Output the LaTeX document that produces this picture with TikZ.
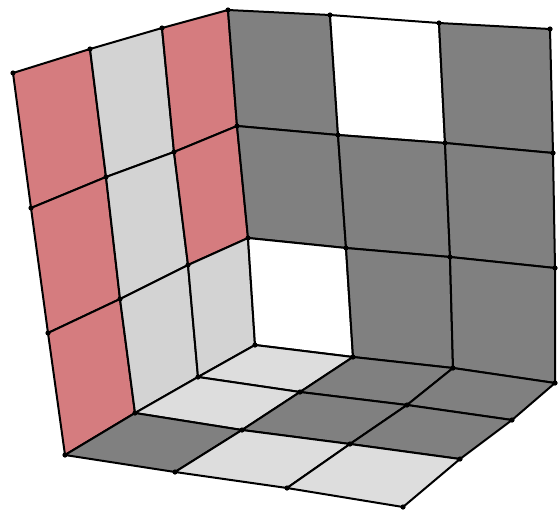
\documentclass[tikz,border=0pt]{standalone}
\usepackage{tikz}
\definecolor{pinkc}{HTML}{D57C7F}
\definecolor{wallgray}{HTML}{D3D3D3}
\definecolor{floorgray}{HTML}{DDDDDD}
\definecolor{darkc}{HTML}{808080}
\tikzset{cellline/.style={draw=black,line width=2pt,line join=round},
  vdot/.style={fill=black}}
\newcommand\qcell[5]{\filldraw[cellline,fill=#1] (#2)--(#3)--(#4)--(#5)--cycle;}
\begin{document}
\begin{tikzpicture}[x=1pt,y=-1pt]
\useasboundingbox (0,0) rectangle (559,512);
% left wall L r c
\coordinate (L00) at (13,73); \coordinate (L01) at (90,49); \coordinate (L02) at (162,28); \coordinate (L03) at (228,10);
\coordinate (L10) at (31,208); \coordinate (L11) at (106,177); \coordinate (L12) at (174,152); \coordinate (L13) at (237,126);
\coordinate (L20) at (48,333); \coordinate (L21) at (120,299); \coordinate (L22) at (188,265); \coordinate (L23) at (248,238);
\coordinate (L30) at (65,455); \coordinate (L31) at (135,413); \coordinate (L32) at (198,377); \coordinate (L33) at (255,345);
% back wall B r c
\coordinate (B00) at (228,10); \coordinate (B01) at (330,15); \coordinate (B02) at (439,23); \coordinate (B03) at (550,29);
\coordinate (B10) at (237,126); \coordinate (B11) at (338,135); \coordinate (B12) at (445,143); \coordinate (B13) at (553,153);
\coordinate (B20) at (248,238); \coordinate (B21) at (346,248); \coordinate (B22) at (450,257); \coordinate (B23) at (555,268);
\coordinate (B30) at (255,345); \coordinate (B31) at (353,357); \coordinate (B32) at (453,368); \coordinate (B33) at (555,383);
% floor F i j
\coordinate (F00) at (255,345); \coordinate (F01) at (353,357); \coordinate (F02) at (453,368); \coordinate (F03) at (555,383);
\coordinate (F10) at (198,377); \coordinate (F11) at (300,392); \coordinate (F12) at (407,405); \coordinate (F13) at (512,420);
\coordinate (F20) at (135,413); \coordinate (F21) at (242,430); \coordinate (F22) at (350,444); \coordinate (F23) at (460,459);
\coordinate (F30) at (65,455); \coordinate (F31) at (175,472); \coordinate (F32) at (287,488); \coordinate (F33) at (403,507);
% left wall cells
\qcell{pinkc}{L00}{L01}{L11}{L10}
\qcell{wallgray}{L01}{L02}{L12}{L11}
\qcell{pinkc}{L02}{L03}{L13}{L12}
\qcell{pinkc}{L10}{L11}{L21}{L20}
\qcell{wallgray}{L11}{L12}{L22}{L21}
\qcell{pinkc}{L12}{L13}{L23}{L22}
\qcell{pinkc}{L20}{L21}{L31}{L30}
\qcell{wallgray}{L21}{L22}{L32}{L31}
\qcell{wallgray}{L22}{L23}{L33}{L32}
% back wall cells
\qcell{darkc}{B00}{B01}{B11}{B10}
\qcell{white}{B01}{B02}{B12}{B11}
\qcell{darkc}{B02}{B03}{B13}{B12}
\qcell{darkc}{B10}{B11}{B21}{B20}
\qcell{darkc}{B11}{B12}{B22}{B21}
\qcell{darkc}{B12}{B13}{B23}{B22}
\qcell{white}{B20}{B21}{B31}{B30}
\qcell{darkc}{B21}{B22}{B32}{B31}
\qcell{darkc}{B22}{B23}{B33}{B32}
% floor cells
\qcell{floorgray}{F00}{F01}{F11}{F10}
\qcell{darkc}{F01}{F02}{F12}{F11}
\qcell{darkc}{F02}{F03}{F13}{F12}
\qcell{floorgray}{F10}{F11}{F21}{F20}
\qcell{darkc}{F11}{F12}{F22}{F21}
\qcell{darkc}{F12}{F13}{F23}{F22}
\qcell{darkc}{F20}{F21}{F31}{F30}
\qcell{floorgray}{F21}{F22}{F32}{F31}
\qcell{floorgray}{F22}{F23}{F33}{F32}
% vertex dots
\foreach \p in {L00,L01,L02,L03,L10,L11,L12,L13,L20,L21,L22,L23,L30,L31,L32,L33,
  B01,B02,B03,B11,B12,B13,B21,B22,B23,B31,B32,B33,
  F11,F12,F13,F21,F22,F23,F31,F32,F33}
  \fill[vdot] (\p) circle (2.6pt);
\end{tikzpicture}
\end{document}
